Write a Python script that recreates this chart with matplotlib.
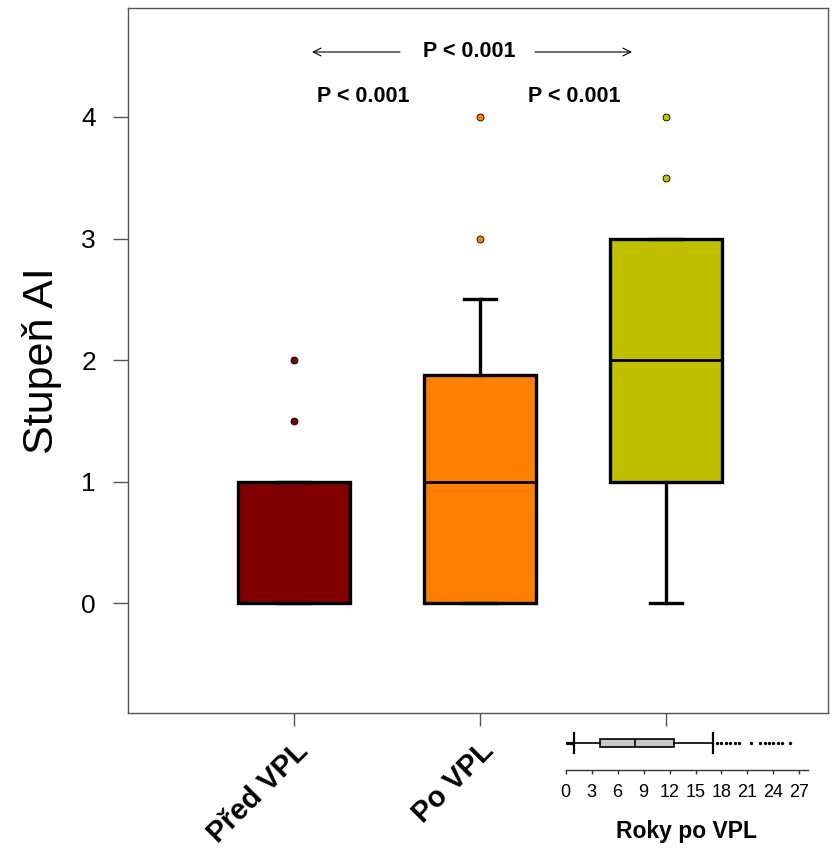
import matplotlib
matplotlib.use("Agg")
import matplotlib.pyplot as plt

plt.rcParams['font.family'] = ['Liberation Sans', 'DejaVu Sans']

# ---- data ----
categories = ["Před VPL", "Po VPL"]
box_colors = ["#800000", "#FF8000", "#C0C000"]
whislo = [0.0, 0.0, 0.0]
q1 = [0.0, 0.0, 1.0]
med = [0.0, 1.0, 2.0]
q3 = [1.0, 1.875, 3.0]
whishi = [1.0, 2.5, 3.0]
fliers = [[1.5, 2.0], [3.0, 4.0], [3.5, 4.0]]
p_labels = ["P < 0.001", "P < 0.001", "P < 0.001"]
yticks = [0, 1, 2, 3, 4]

# inset: years after VPL
yrs_whislo, yrs_q1, yrs_med, yrs_q3, yrs_whishi = 1.0, 4.0, 8.0, 12.5, 17.0
yrs_fliers = [0.1, 0.3, 0.5, 0.7, 17.5, 18.0, 18.5, 19.0, 19.6, 20.0, 21.4,
              22.5, 23.0, 23.5, 24.0, 24.5, 25.0, 25.9]
yrs_ticks = list(range(0, 28, 3))

fig = plt.figure(figsize=(8.34, 8.49), dpi=100)
ax = fig.add_axes([128/834, 1-713/849, 700/834, 705/849])

stats = []
for i in range(3):
    stats.append(dict(whislo=whislo[i], q1=q1[i], med=med[i], q3=q3[i],
                      whishi=whishi[i], fliers=fliers[i]))
bp = ax.bxp(stats, positions=[1, 2, 3], widths=0.6, patch_artist=True,
            capwidths=0.17,
            boxprops=dict(linewidth=2.4, edgecolor='black'),
            medianprops=dict(color='black', linewidth=2.0),
            whiskerprops=dict(linewidth=2.4, color='black'),
            capprops=dict(linewidth=2.4, color='black'),
            flierprops=dict(marker='o', markersize=5, markeredgecolor='black',
                            markeredgewidth=0.6))
for patch, c in zip(bp['boxes'], box_colors):
    patch.set_facecolor(c)
for fl, c in zip(bp['fliers'], box_colors):
    fl.set_markerfacecolor(c)

ax.set_xlim(0.108, 3.871)
ax.set_ylim(-0.905, 4.897)
ax.set_yticks(yticks)
ax.set_yticklabels([str(t) for t in yticks], fontsize=19)
ax.set_xticks([1, 2, 3])
ax.set_xticklabels(categories + [""], fontsize=21, fontweight='bold',
                   rotation=45, ha='right', rotation_mode='anchor')
ax.tick_params(axis='y', length=11, width=1, color='#555555', pad=12)
ax.tick_params(axis='x', length=9, width=1, color='#555555', pad=8)
for s in ax.spines.values():
    s.set_color('#555555')
    s.set_linewidth(1.0)
ax.set_ylabel("Stupeň AI", fontsize=31, labelpad=14)

# annotations
ax.text(1.941, 4.535, p_labels[0], ha='center', va='center', fontsize=15.5,
        fontweight='bold')
ax.annotate("", xy=(1.097, 4.535), xytext=(1.57, 4.535),
            arrowprops=dict(arrowstyle='->', lw=0.8, color='black',
                            mutation_scale=14, shrinkA=0, shrinkB=0))
ax.annotate("", xy=(2.817, 4.535), xytext=(2.296, 4.535),
            arrowprops=dict(arrowstyle='->', lw=0.8, color='black',
                            mutation_scale=14, shrinkA=0, shrinkB=0))
ax.text(1.374, 4.165, p_labels[1], ha='center', va='center', fontsize=15.5,
        fontweight='bold')
ax.text(2.508, 4.165, p_labels[2], ha='center', va='center', fontsize=15.5,
        fontweight='bold')

# inset
ax2 = fig.add_axes([565.7/834, 1-770/849, 242.3/834, 40/849])
st2 = [dict(whislo=yrs_whislo, q1=yrs_q1, med=yrs_med, q3=yrs_q3,
            whishi=yrs_whishi, fliers=yrs_fliers)]
bp2 = ax2.bxp(st2, positions=[0.675], widths=0.2, vert=False,
              patch_artist=True, capwidths=0.5,
              boxprops=dict(linewidth=1.2, edgecolor='black',
                            facecolor='#C8C8C8'),
              medianprops=dict(color='black', linewidth=1.2),
              whiskerprops=dict(linewidth=1.2, color='black'),
              capprops=dict(linewidth=1.6, color='black'),
              flierprops=dict(marker='o', markersize=1.4,
                              markerfacecolor='black', markeredgecolor='black'))
ax2.set_xlim(0, 28)
ax2.set_ylim(0, 1)
ax2.patch.set_alpha(0)
for k in ['top', 'left', 'right']:
    ax2.spines[k].set_visible(False)
ax2.spines['bottom'].set_color('#333333')
ax2.spines['bottom'].set_linewidth(1.0)
ax2.set_yticks([])
ax2.set_xticks(yrs_ticks)
ax2.set_xticklabels([str(t) for t in yrs_ticks], fontsize=13)
ax2.tick_params(axis='x', length=3, width=1, pad=7, color='#333333')
ax2.set_xlabel("Roky po VPL", fontsize=16.5, fontweight='bold', labelpad=14)

fig.savefig("out.png", dpi=100)
